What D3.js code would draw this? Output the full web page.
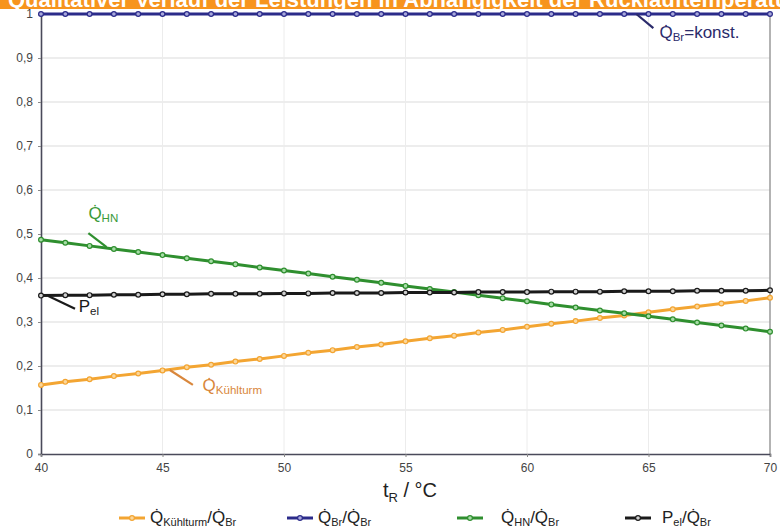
<!DOCTYPE html>
<html>
<head>
<meta charset="utf-8">
<script src="https://cdn.jsdelivr.net/npm/d3@7"></script>
<style>
  body { margin: 0; background: #fff; }
  svg { display: block; font-family: "Liberation Sans", Arial, sans-serif; }
</style>
</head>
<body>
<div id="chart"></div>
<script>
// values
const tempR = [40,41,42,43,44,45,46,47,48,49,50,51,52,53,54,55,56,57,58,59,60,61,62,63,64,65,66,67,68,69,70];
const qKuehlturm = [0.157,0.164,0.170,0.177,0.183,0.190,0.197,0.203,0.210,0.216,0.223,0.230,0.236,0.243,0.249,0.256,
                    0.263,0.269,0.276,0.282,0.289,0.296,0.302,0.309,0.315,0.322,0.329,0.335,0.342,0.348,0.355];
const qBr = [1,1,1,1,1,1,1,1,1,1,1,1,1,1,1,1,1,1,1,1,1,1,1,1,1,1,1,1,1,1,1];
const qHN = [0.487,0.480,0.473,0.466,0.459,0.452,0.445,0.438,0.431,0.424,0.417,0.410,0.403,0.396,0.389,0.382,
             0.375,0.368,0.361,0.354,0.347,0.340,0.333,0.326,0.320,0.313,0.306,0.299,0.292,0.285,0.278];
const pEl = [0.360,0.361,0.361,0.362,0.362,0.363,0.363,0.364,0.364,0.364,0.365,0.365,0.366,0.366,0.366,0.367,
             0.367,0.367,0.368,0.368,0.368,0.369,0.369,0.369,0.370,0.370,0.370,0.371,0.371,0.371,0.372];
const xTicks = [40,45,50,55,60,65,70];
const yTicks = [0,0.1,0.2,0.3,0.4,0.5,0.6,0.7,0.8,0.9,1];
const titleText = "Qualitativer Verlauf der Leistungen in Abhängigkeit der Rücklauftemperatur";

const width = 780, height = 529;
const margin = {top: 14, right: 10, bottom: 75, left: 41};

const series = [
  {key: "kuehl", values: qKuehlturm, color: "#f3a532", fill: "#fbd69a", q: "Q\u0307", sub: "Kühlturm"},
  {key: "br",    values: qBr,        color: "#2b2b8a", fill: "#a8a8dc", q: "Q\u0307", sub: "Br"},
  {key: "hn",    values: qHN,        color: "#2f8f2f", fill: "#a6dca6", q: "Q\u0307", sub: "HN"},
  {key: "el",    values: pEl,        color: "#1a1a1a", fill: "#d0d0d0", q: "P",       sub: "el"}
];

const svg = d3.select("#chart").append("svg")
  .attr("width", width).attr("height", height);

// title bar, cut off at the top edge as in the source
svg.append("rect").attr("x", 0).attr("y", 0).attr("width", width).attr("height", 9)
  .attr("fill", "#f7941d");
svg.append("text").attr("x", 8).attr("y", 7)
  .attr("fill", "#fff").attr("font-weight", "bold").attr("font-size", 22)
  .text(titleText);

const x = d3.scaleLinear().domain([40, 70]).range([margin.left, width - margin.right]);
const y = d3.scaleLinear().domain([0, 1]).range([height - margin.bottom, margin.top]);

// grid
const grid = svg.append("g");
grid.selectAll("line.h").data(yTicks.slice(1)).enter().append("line")
  .attr("x1", x(40)).attr("x2", x(70))
  .attr("y1", d => y(d)).attr("y2", d => y(d))
  .attr("stroke", "#dcdcdc").attr("stroke-width", 1.2);
grid.selectAll("line.v").data(xTicks.slice(1, -1)).enter().append("line")
  .attr("x1", d => x(d)).attr("x2", d => x(d))
  .attr("y1", y(0)).attr("y2", y(1))
  .attr("stroke", "#ececec").attr("stroke-width", 1);
// right border
svg.append("line").attr("x1", x(70)).attr("x2", x(70)).attr("y1", y(1)).attr("y2", y(0))
  .attr("stroke", "#9a9a9a").attr("stroke-width", 1.5);

// axes
const fmt = d => d === 0 ? "0" : d === 1 ? "1" : d3.format(".1f")(d).replace(".", ",");
const yAxis = svg.append("g").attr("transform", `translate(${x(40)},0)`)
  .call(d3.axisLeft(y).tickValues(yTicks).tickFormat(fmt).tickSize(3).tickPadding(5));
const xAxis = svg.append("g").attr("transform", `translate(0,${y(0)})`)
  .call(d3.axisBottom(x).tickValues(xTicks).tickSize(3).tickPadding(6));
[yAxis, xAxis].forEach(a => {
  a.select(".domain").attr("stroke", "#4a4a5a").attr("stroke-width", 1.6);
  a.selectAll(".tick line").attr("stroke", "#888");
  a.selectAll(".tick text").attr("fill", "#444").attr("font-size", 12)
    .attr("font-family", "Liberation Sans, Arial, sans-serif");
});

// x axis title
const xt = svg.append("text").attr("x", 410).attr("y", 497)
  .attr("text-anchor", "middle").attr("font-size", 20).attr("fill", "#222");
xt.append("tspan").text("t");
xt.append("tspan").attr("font-size", 13).attr("dy", 5).text("R");
xt.append("tspan").attr("dy", -5).text(" / °C");

// lines + markers
const line = d3.line().x((d, i) => x(tempR[i])).y(d => y(d));
series.forEach(s => {
  const g = svg.append("g");
  g.append("path").datum(s.values).attr("d", line)
    .attr("fill", "none").attr("stroke", s.color).attr("stroke-width", 3);
  g.selectAll("circle").data(s.values).enter().append("circle")
    .attr("cx", (d, i) => x(tempR[i])).attr("cy", d => y(d)).attr("r", 2.4)
    .attr("fill", s.fill).attr("stroke", s.color).attr("stroke-width", 1.2);
});

// annotations in data coordinates
function label(parent, px, py, color, main, sub, tail, size) {
  const t = parent.append("text").attr("x", x(px)).attr("y", y(py))
    .attr("fill", color).attr("font-size", size);
  t.append("tspan").text(main);
  t.append("tspan").attr("font-size", size * 0.68).attr("dy", 3).text(sub);
  if (tail) t.append("tspan").attr("dy", -3).text(tail);
  return t;
}
const ann = [
  {l: [64.5, 1.0, 65.2, 0.968], t: [65.45, 0.945], color: "#2b2b6b", lc: "#2b2b6b", main: "Q\u0307", sub: "Br", tail: "=konst."},
  {l: [41.95, 0.502, 42.7, 0.470], t: [41.95, 0.534], color: "#3a9a3a", lc: "#2f8f2f", main: "Q\u0307", sub: "HN", tail: null},
  {l: [40.3, 0.359, 41.4, 0.330], t: [41.55, 0.322], color: "#1a1a1a", lc: "#1a1a1a", main: "P", sub: "el", tail: null},
  {l: [45.3, 0.191, 46.25, 0.157], t: [46.65, 0.143], color: "#d9873c", lc: "#d9873c", main: "Q\u0307", sub: "Kühlturm", tail: null}
];
ann.forEach(a => {
  svg.append("line").attr("x1", x(a.l[0])).attr("y1", y(a.l[1]))
    .attr("x2", x(a.l[2])).attr("y2", y(a.l[3]))
    .attr("stroke", a.lc).attr("stroke-width", 2.2);
  label(svg, a.t[0], a.t[1], a.color, a.main, a.sub, a.tail, 17);
});

// legend
const legendX = [119, 287, 457, 625];
const legend = svg.append("g").attr("transform", "translate(0,518)");
series.forEach((s, i) => {
  const g = legend.append("g").attr("transform", `translate(${legendX[i]},0)`);
  g.append("line").attr("x1", 0).attr("x2", 26).attr("y1", 0).attr("y2", 0)
    .attr("stroke", s.color).attr("stroke-width", 3);
  g.append("circle").attr("cx", 13).attr("cy", 0).attr("r", 2.4)
    .attr("fill", s.fill).attr("stroke", s.color).attr("stroke-width", 1.2);
  const t = g.append("text").attr("x", i === 2 ? 44 : i === 3 ? 37 : 31).attr("y", 5)
    .attr("font-size", 17).attr("fill", "#222");
  t.append("tspan").text(s.q);
  t.append("tspan").attr("font-size", 11).attr("dy", 3).text(s.sub);
  t.append("tspan").attr("dy", -3).text("/Q\u0307");
  t.append("tspan").attr("font-size", 11).attr("dy", 3).text("Br");
});
</script>
</body>
</html>
